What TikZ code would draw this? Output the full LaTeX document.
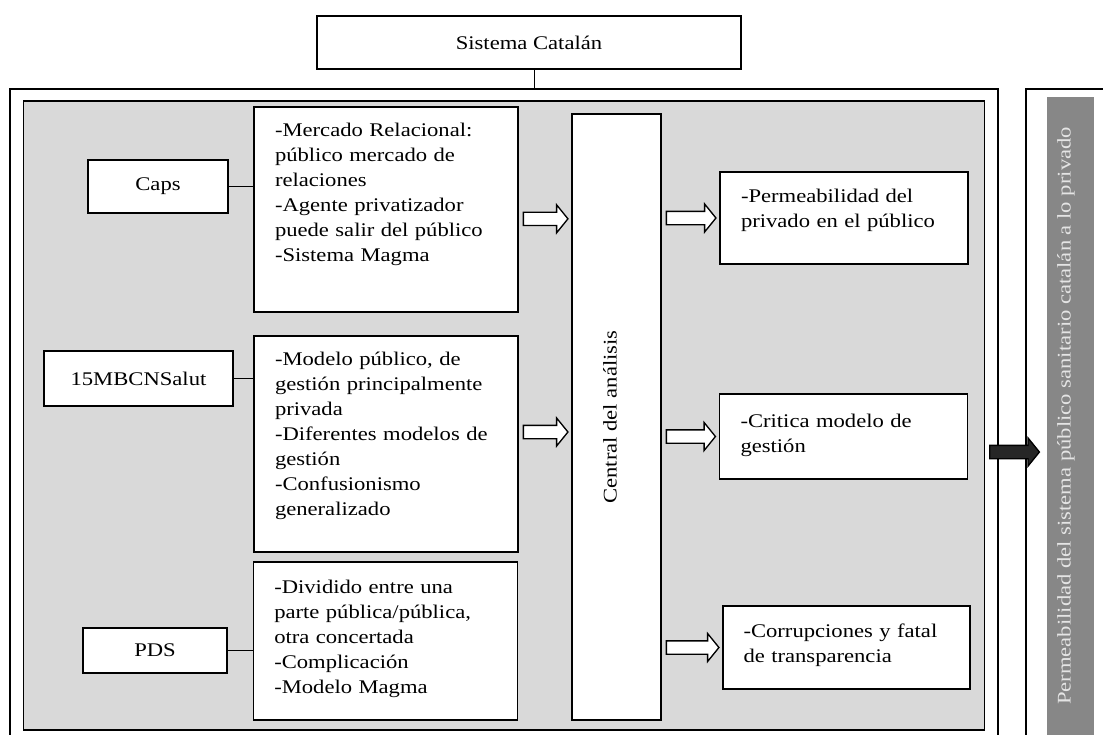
\documentclass[tikz,border=0pt]{standalone}
\usepackage{fontspec}
\setmainfont{Liberation Serif}[FakeStretch=1.17]
\usetikzlibrary{calc}

\definecolor{panelgray}{RGB}{217,217,217}
\definecolor{bargray}{RGB}{135,135,135}
\definecolor{bartext}{RGB}{228,228,228}
\tikzstyle{framestyle} = [rectangle,
minimum width=741pt,
minimum height=495.75pt,
draw=black,
line width=0.9pt]
\tikzstyle{panelstyle} = [rectangle,
minimum width=720.75pt,
minimum height=471.75pt,
draw=black,
line width=0.9pt,
fill=panelgray]
\tikzstyle{catstyle} = [rectangle,
minimum width=318pt,
minimum height=39.75pt,
text centered,
draw=black,
line width=1.1pt,
fill=white]
\tikzstyle{srcstyle} = [rectangle,
minimum height=39.75pt,
text centered,
draw=black,
line width=1.1pt,
fill=white]
\tikzstyle{descstyle} = [rectangle,
minimum width=198pt,
text width=166.5pt,
inner sep=0pt,
align=left,
draw=black,
line width=1.1pt,
fill=white]
\tikzstyle{centralstyle} = [rectangle,
minimum width=454.5pt,
minimum height=66.75pt,
text height=10pt,
text depth=10pt,
draw=black,
line width=1.1pt,
rotate=90,
fill=white]
\tikzstyle{resstyle} = [rectangle,
minimum width=186pt,
text width=154.5pt,
inner sep=0pt,
align=left,
draw=black,
line width=1.1pt,
fill=white]
\tikzstyle{barstyle} = [rectangle,
minimum width=478.5pt,
minimum height=35.25pt,
text height=10pt,
text depth=10pt,
rotate=90,
fill=bargray,
text=bartext]
\tikzstyle{line} = [line width=1.1pt]
\tikzstyle{blockarrow} = [draw=black, line width=1pt, fill=white,
to path={let \p1=(\tikztostart), \p2=(\tikztotarget) in
(\x1+3.5pt,\y1+5pt) -- (\x2-11pt,\y1+5pt) -- (\x2-11pt,\y1+10.5pt) -- (\x2-2.5pt,\y1)
-- (\x2-11pt,\y1-10.5pt) -- (\x2-11pt,\y1-5pt) -- (\x1+3.5pt,\y1-5pt) -- cycle}]

\begin{document}
\begin{tikzpicture}[x=0.75pt, y=-0.75pt, font=\fontsize{14.5pt}{18.75pt}\selectfont]
\useasboundingbox (0,0) rectangle (1103,735);
\clip (0,0) rectangle (1103,735);
\fill[white] (0,0) rectangle (1103,735);

\node (frame) [framestyle] at (504,419.5) {};
\node (rframe) [framestyle, minimum width=66.75pt] at (1070.5,419.5) {};
\node (panel) [panelstyle] at (504,415.5) {};
\node (bar) [barstyle] at (1070.5,416) {Permeabilidad del sistema público sanitario catalán a lo privado};

\node (cat) [catstyle] at (529,42.5) {Sistema Catalán};

\node (caps) [srcstyle, minimum width=105pt] at (158,186.5) {Caps};
\node (salut) [srcstyle, minimum width=141.75pt, minimum height=41.25pt] at (138.5,378.5) {15MBCNSalut};
\node (pds) [srcstyle, minimum width=108pt, minimum height=33.75pt] at (155,650.5) {PDS};

\node (box1) [descstyle, text height=22.5pt, text depth=131.25pt] at (386,209.5) {-Mercado Relacional:\\ público mercado de\\ relaciones\\ -Agente privatizador\\ puede salir del público\\ -Sistema Magma};
\node (box2) [descstyle, text height=21.75pt, text depth=140.25pt] at (386,444) {-Modelo público, de\\ gestión principalmente\\ privada\\ -Diferentes modelos de\\ gestión\\ -Confusionismo\\ generalizado};
\node (box3) [descstyle, text height=23.25pt, text depth=95.25pt] at (385.25,641) {-Dividido entre una\\ parte pública/pública,\\ otra concertada\\ -Complicación\\ -Modelo Magma};

\node (central) [centralstyle] at (616.5,417) {Central del análisis};

\node (res1) [resstyle, text height=22.5pt, text depth=46.5pt] at (844,218) {-Permeabilidad del\\ privado en el público};
\node (res2) [resstyle, text height=24.75pt, text depth=39pt] at (843.5,436.5) {-Critica modelo de\\ gestión};
\node (res3) [resstyle, minimum width=185.25pt, text height=23.25pt, text depth=39pt] at (846.5,647.5) {-Corrupciones y fatal\\ de transparencia};

\coordinate (stem) at ([xshift=4pt]cat.south);
\draw [line] (stem) -- (stem |- frame.north);
\draw [line] (caps.east) -- (caps.east -| box1.west);
\draw [line] (salut.east) -- (salut.east -| box2.west);
\draw [line] (pds.east) -- (pds.east -| box3.west);

\draw [blockarrow] ([yshift=-7pt]box1.east) to (central.north);
\draw [blockarrow] ([yshift=9pt]box2.east) to (central.north);
\draw [blockarrow] (central.south |- res1.west) to (res1.west);
\draw [blockarrow] (central.south |- res2.west) to (res2.west);
\draw [blockarrow] (central.south |- res3.west) to (res3.west);
\draw [blockarrow, fill=black!85] ([yshift=-27.4pt]panel.east) to ([xshift=-3pt]bar.north);
\end{tikzpicture}
\end{document}
